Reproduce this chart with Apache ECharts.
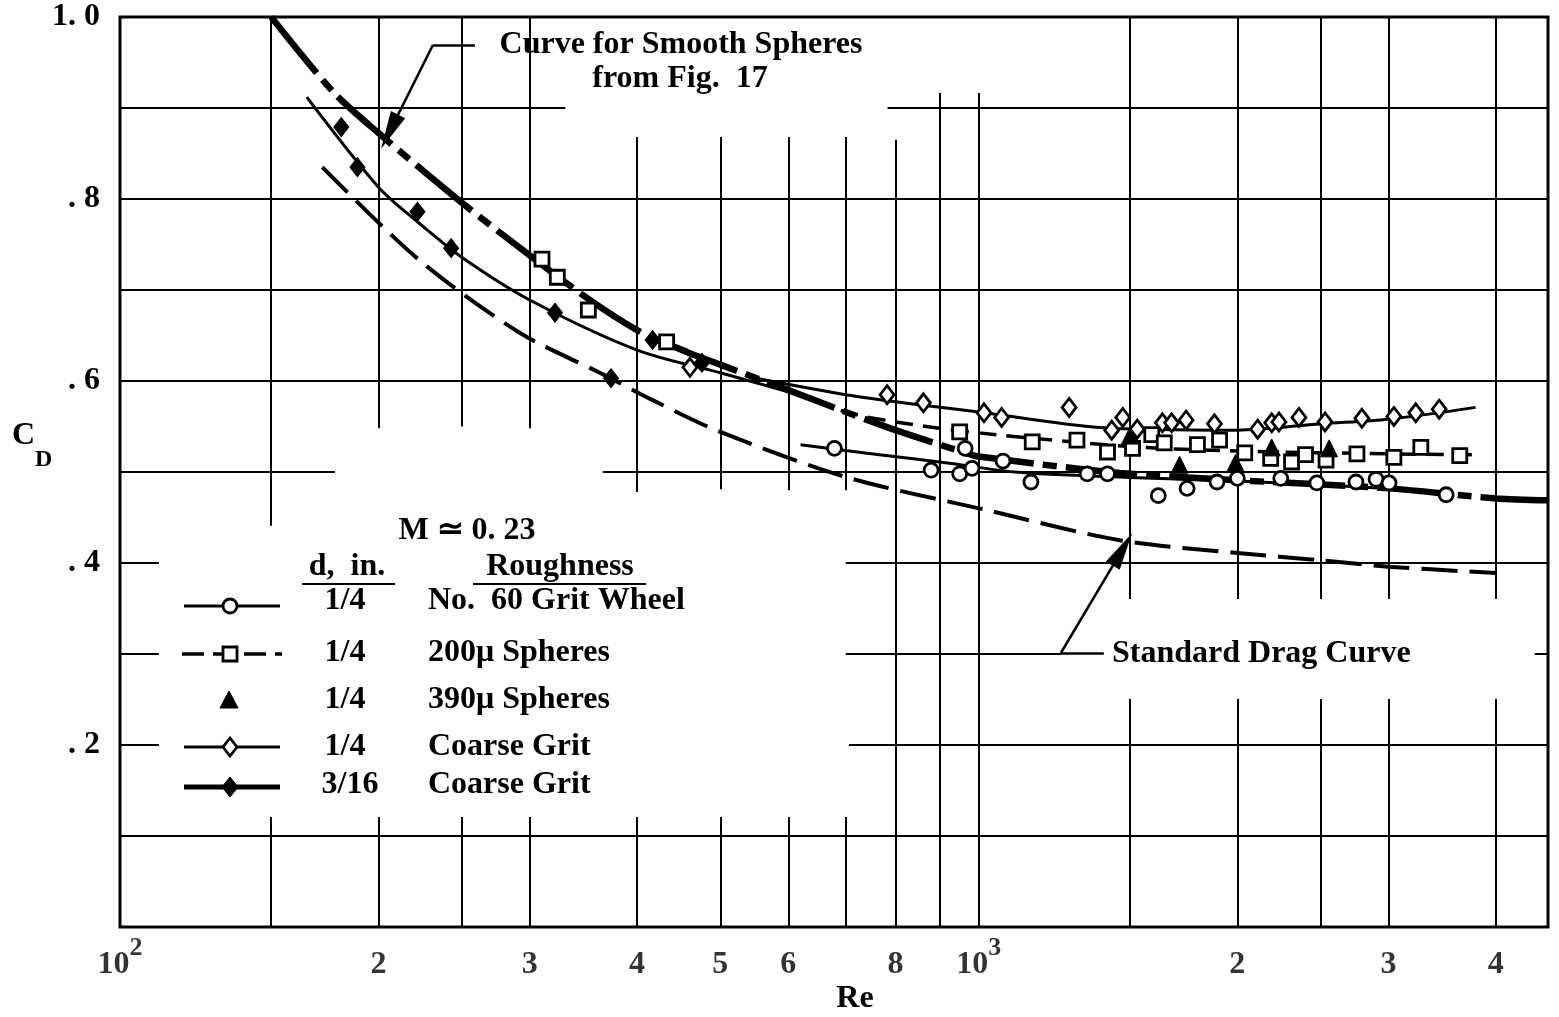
<!DOCTYPE html>
<html><head><meta charset="utf-8">
<script src="https://cdn.jsdelivr.net/npm/echarts@6/dist/echarts.min.js"></script>
<style>html,body{margin:0;padding:0;background:#fff}#c{width:1559px;height:1017px}</style>
</head><body><div id="c"></div>
<script>
// ---------------- data (Re, C_D) ----------------
const xTickValues = [100, 200, 300, 400, 500, 600, 800, 1000, 2000, 3000, 4000];
const xTickLabels = ['10^2', '2', '3', '4', '5', '6', '8', '10^3', '2', '3', '4'];

// Curve for smooth spheres (from Fig. 17)
const smoothRe = [150, 177, 200, 250, 300, 350, 400, 457, 500, 600, 700, 800, 958, 1000, 1459, 2000, 3000, 4000, 4600];
const smoothCd = [1.0, 0.918, 0.8725, 0.796, 0.738, 0.691, 0.656, 0.632, 0.618, 0.590, 0.566, 0.546, 0.522, 0.517, 0.499, 0.491, 0.482, 0.471, 0.469];

// Standard drag curve
const stdRe = [172, 223, 292, 362, 417, 500, 700, 1023, 1459, 2000, 2500, 3000, 4000];
const stdCd = [0.835, 0.733, 0.653, 0.609, 0.579, 0.544, 0.4945, 0.458, 0.425, 0.411, 0.403, 0.396, 0.389];

// 3/16 in., coarse grit (filled diamonds, solid line)
const grit316LineRe = [165, 200, 222, 250, 300, 400, 500, 600];
const grit316LineCd = [0.912, 0.813, 0.775, 0.736, 0.689, 0.634, 0.609, 0.588];
const grit316PtsRe = [181, 189, 222, 243, 321, 373, 417, 476];
const grit316PtsCd = [0.879, 0.835, 0.786, 0.746, 0.675, 0.603, 0.645, 0.620];

// 1/4 in., coarse grit (open diamonds, solid line)
const coarseLineRe = [550, 700, 850, 1000, 1383, 2000, 2500, 3000, 3788];
const coarseLineCd = [0.603, 0.585, 0.574, 0.566, 0.549, 0.546, 0.553, 0.558, 0.571];
const coarsePtsRe = [461, 782, 862, 1014, 1063, 1274, 1428, 1471, 1529, 1636, 1677, 1743, 1881, 2112, 2193, 2236, 2359, 2530, 2793, 3043, 3227, 3436];
const coarsePtsCd = [0.615, 0.585, 0.576, 0.565, 0.560, 0.571, 0.546, 0.560, 0.547, 0.554, 0.554, 0.557, 0.553, 0.547, 0.554, 0.555, 0.560, 0.555, 0.559, 0.561, 0.565, 0.569];

// 1/4 in., 200 micron spheres (open squares, dashed line)
const sph200LineRe = [600, 700, 800, 1000, 1500, 2000, 3000, 3788];
const sph200LineCd = [0.590, 0.566, 0.555, 0.543, 0.528, 0.523, 0.520, 0.519];
const sph200PtsRe = [310, 323, 351, 433, 950, 1154, 1301, 1412, 1510, 1590, 1644, 1797, 1907, 2040, 2187, 2313, 2401, 2537, 2756, 3043, 3271, 3631];
const sph200PtsCd = [0.734, 0.714, 0.678, 0.643, 0.544, 0.533, 0.535, 0.522, 0.526, 0.541, 0.532, 0.530, 0.535, 0.521, 0.515, 0.511, 0.519, 0.513, 0.520, 0.516, 0.527, 0.518];

// 1/4 in., No. 60 grit wheel (open circles, solid line)
const wheelLineRe = [620, 766, 919, 1100, 1500, 2000, 3000, 3500];
const wheelLineCd = [0.530, 0.519, 0.510, 0.500, 0.494, 0.490, 0.482, 0.478];
const wheelPtsRe = [679, 880, 950, 964, 982, 1067, 1150, 1337, 1412, 1618, 1748, 1894, 2000, 2247, 2475, 2749, 2901, 3004, 3501];
const wheelPtsCd = [0.526, 0.502, 0.498, 0.526, 0.504, 0.512, 0.489, 0.498, 0.498, 0.474, 0.482, 0.489, 0.493, 0.493, 0.488, 0.489, 0.492, 0.488, 0.475];

// 1/4 in., 390 micron spheres (filled triangles)
const sph390PtsRe = [1500, 1713, 1990, 2193, 2558];
const sph390PtsCd = [0.540, 0.508, 0.510, 0.527, 0.526];

// ---------------- chart-paper grid (segments, data units) ----------------
const hGridSegs = [ // [C_D, ReFrom, ReTo]
  [0.1, 100, 4600],
  [0.2, 100, 111], [0.2, 706, 4600],
  [0.3, 100, 111], [0.3, 700, 1246], [0.3, 4440, 4600],
  [0.4, 100, 111], [0.4, 700, 4600],
  [0.5, 100, 178], [0.5, 365, 4600],
  [0.6, 100, 4600], [0.7, 100, 4600], [0.8, 100, 4600],
  [0.9, 100, 330], [0.9, 783, 4600]
];
const vGridSegs = [ // [Re, CdFrom, CdTo]
  [150, 0.441, 1], [150, 0, 0.121],
  [200, 0.548, 1], [200, 0, 0.121],
  [250, 0.550, 1], [250, 0, 0.121],
  [300, 0.548, 1], [300, 0, 0.121],
  [400, 0.478, 0.868], [400, 0, 0.121],
  [500, 0.481, 0.868], [500, 0, 0.121],
  [600, 0.480, 0.868], [600, 0, 0.121],
  [700, 0.480, 0.868], [700, 0, 0.121],
  [800, 0, 0.865], [900, 0, 0.9165], [1000, 0, 0.9165],
  [1500, 0.3604, 1], [1500, 0, 0.2505],
  [2000, 0.3604, 1], [2000, 0, 0.2505],
  [2500, 0.3604, 1], [2500, 0, 0.2505],
  [3000, 0.3604, 1], [3000, 0, 0.2505],
  [4000, 0.3604, 1], [4000, 0, 0.2505]
];
// annotation leaders [Re, C_D]: horizontal start, corner, arrow tip
const smoothLeader = [[259, 0.9692], [231.4, 0.9692], [206, 0.8740]];
const stdLeader = [[1398, 0.3011], [1246, 0.3011], [1470, 0.4150]];

// ---------------- build ----------------
const F = "'Liberation Serif','Times New Roman',serif";
const FS = 32;
const font = 'bold ' + FS + 'px ' + F;
const pairs = (xs, ys) => xs.map((x, i) => [x, ys[i]]);

const gridData = [];
hGridSegs.forEach(s => gridData.push([{coord: [s[1], s[0]]}, {coord: [s[2], s[0]]}]));
vGridSegs.forEach(s => gridData.push([{coord: [s[0], s[1]]}, {coord: [s[0], s[2]]}]));

const leaderFlat = [smoothLeader, stdLeader].map(p => [{coord: p[0]}, {coord: p[1]}]);
const leaderArrow = [smoothLeader, stdLeader].map(p => [{coord: p[1]}, {coord: p[2]}]);

const lineBase = {type: 'line', symbol: 'none', smooth: 0.3, silent: true, z: 3};
const openItem = {color: '#fff', borderColor: '#000', borderWidth: 2.8, opacity: 1};
const filledItem = {color: '#000', borderColor: '#000', borderWidth: 1, opacity: 1};

function txt(x, y, s, align) {
  return {type: 'text', x: x, y: y, z: 10, style: {text: s, font: font, fill: '#000', align: align || 'center', textAlign: align || 'center', verticalAlign: 'middle', textVerticalAlign: 'middle'}};
}

const chart = echarts.init(document.getElementById('c'), null, {renderer: 'canvas'});
const option = {
  backgroundColor: '#fff',
  animation: false,
  grid: {left: 120, right: 11, top: 17, bottom: 90, show: true, borderColor: '#000', borderWidth: 3, backgroundColor: 'transparent'},
  xAxis: {type: 'log', logBase: 10, min: 100, max: 4600,
    axisLine: {show: false}, axisTick: {show: false}, axisLabel: {show: false}, splitLine: {show: false}},
  yAxis: {type: 'value', min: 0, max: 1, interval: 0.1,
    axisLine: {show: false}, axisTick: {show: false}, splitLine: {show: false},
    axisLabel: {margin: 20, color: '#000', fontFamily: F, fontSize: FS, fontWeight: 'bold',
      formatter: v => { const t = Math.round(v * 10); if (t === 10) return '1. 0'; if (t > 0 && t % 2 === 0) return '. ' + t; return ''; }}},
  series: [
    {name: 'paper', type: 'line', data: [], silent: true, z: 1,
      markLine: {silent: true, animation: false, symbol: ['none', 'none'], label: {show: false},
        lineStyle: {color: '#000', width: 2, type: 'solid'}, emphasis: {disabled: true}, data: gridData}},
    Object.assign({}, lineBase, {name: 'Smooth', data: pairs(smoothRe, smoothCd), lineStyle: {color: '#000', width: 6.5, type: [72, 9, 14, 9], cap: 'butt'}}),
    Object.assign({}, lineBase, {name: 'Standard', data: pairs(stdRe, stdCd), lineStyle: {color: '#000', width: 4, type: [36, 12]}}),
    Object.assign({}, lineBase, {name: '3/16 line', data: pairs(grit316LineRe, grit316LineCd), lineStyle: {color: '#000', width: 3}}),
    Object.assign({}, lineBase, {name: 'coarse line', data: pairs(coarseLineRe, coarseLineCd), lineStyle: {color: '#000', width: 3}}),
    Object.assign({}, lineBase, {name: '200 line', data: pairs(sph200LineRe, sph200LineCd), lineStyle: {color: '#000', width: 3.5, type: [18, 10]}}),
    Object.assign({}, lineBase, {name: 'wheel line', data: pairs(wheelLineRe, wheelLineCd), lineStyle: {color: '#000', width: 3}}),
    {name: '3/16 pts', type: 'scatter', z: 5, silent: true, symbol: 'diamond', symbolSize: [15, 19], itemStyle: filledItem, data: pairs(grit316PtsRe, grit316PtsCd)},
    {name: 'coarse pts', type: 'scatter', z: 5, silent: true, symbol: 'diamond', symbolSize: [14, 18], itemStyle: openItem, data: pairs(coarsePtsRe, coarsePtsCd)},
    {name: '200 pts', type: 'scatter', z: 5, silent: true, symbol: 'rect', symbolSize: 14, itemStyle: openItem, data: pairs(sph200PtsRe, sph200PtsCd)},
    {name: 'wheel pts', type: 'scatter', z: 5, silent: true, symbol: 'circle', symbolSize: 14, itemStyle: openItem, data: pairs(wheelPtsRe, wheelPtsCd)},
    {name: '390 pts', type: 'scatter', z: 5, silent: true, symbol: 'triangle', symbolSize: 17, itemStyle: filledItem, data: pairs(sph390PtsRe, sph390PtsCd)},
    {name: 'leaders', type: 'line', data: [], silent: true, z: 4,
      markLine: {silent: true, animation: false, label: {show: false}, symbol: ['none', 'none'],
        lineStyle: {color: '#000', width: 2.5, type: 'solid'}, emphasis: {disabled: true}, data: leaderFlat}},
    {name: 'arrows', type: 'line', data: [], silent: true, z: 4,
      markLine: {silent: true, animation: false, label: {show: false}, symbol: ['none', 'triangle'], symbolSize: [16, 38],
        lineStyle: {color: '#000', width: 2.5, type: 'solid'}, itemStyle: {color: '#000'}, emphasis: {disabled: true}, data: leaderArrow}},
    {name: 'xlabels', type: 'scatter', silent: true, z: 6, symbolSize: 0, clip: false,
      data: xTickValues.map((v, i) => [v, 0, xTickLabels[i]]),
      label: {show: true, position: 'inside', offset: [0, 38], color: '#000',
        formatter: p => { const s = p.data[2]; if (s.indexOf('^') >= 0) { const a = s.split('^'); return '{b|' + a[0] + '}{s|' + a[1] + '}'; } return '{b|' + s + '}'; },
        rich: {
          b: {fontFamily: F, fontSize: FS, fontWeight: 'bold', lineHeight: 60, color: '#000'},
          s: {fontFamily: F, fontSize: 26, fontWeight: 'bold', lineHeight: 20, verticalAlign: 'top', color: '#000'}
        }}}
  ],
  graphic: [
    {type: 'text', left: 12, top: 420, z: 10, style: {text: '{c|C}{d|D}', rich: {
      c: {fontFamily: F, fontSize: FS, fontWeight: 'bold', lineHeight: 52, verticalAlign: 'top', fill: '#000', color: '#000'},
      d: {fontFamily: F, fontSize: 24, fontWeight: 'bold', lineHeight: 22, verticalAlign: 'bottom', fill: '#000', color: '#000'}}}},
    txt(855, 999, 'Re'),
    txt(681, 45, 'Curve for Smooth Spheres'),
    txt(680, 79, 'from Fig.  17'),
    txt(1112, 654, 'Standard Drag Curve', 'left'),
    txt(467, 531, 'M \u2243 0. 23'),
    txt(347, 567, 'd,  in.'),
    {type: 'line', shape: {x1: 302, y1: 584, x2: 395, y2: 584}, style: {stroke: '#000', lineWidth: 2}},
    txt(560, 567, 'Roughness'),
    {type: 'line', shape: {x1: 473, y1: 584, x2: 646, y2: 584}, style: {stroke: '#000', lineWidth: 2}},
    // row 1
    {type: 'line', shape: {x1: 184, y1: 606, x2: 280, y2: 606}, style: {stroke: '#000', lineWidth: 3}},
    {type: 'circle', shape: {cx: 230, cy: 606, r: 7}, style: {fill: '#fff', stroke: '#000', lineWidth: 2.8}},
    txt(345, 601, '1/4'), txt(428, 601, 'No.  60 Grit Wheel', 'left'),
    // row 2
    {type: 'line', shape: {x1: 182, y1: 654, x2: 282, y2: 654}, style: {stroke: '#000', lineWidth: 3.5, lineDash: [22, 9]}},
    {type: 'rect', shape: {x: 223, y: 647, width: 14, height: 14}, style: {fill: '#fff', stroke: '#000', lineWidth: 2.8}},
    txt(345, 653, '1/4'), txt(428, 653, '200\u03bc Spheres', 'left'),
    // row 3
    {type: 'polygon', shape: {points: [[229, 691], [238, 708], [220, 708]]}, style: {fill: '#000', stroke: '#000', lineWidth: 1}},
    txt(345, 700, '1/4'), txt(428, 700, '390\u03bc Spheres', 'left'),
    // row 4
    {type: 'line', shape: {x1: 184, y1: 747, x2: 280, y2: 747}, style: {stroke: '#000', lineWidth: 3}},
    {type: 'polygon', shape: {points: [[230, 738], [237, 747], [230, 756], [223, 747]]}, style: {fill: '#fff', stroke: '#000', lineWidth: 2.8}},
    txt(345, 747, '1/4'), txt(428, 747, 'Coarse Grit', 'left'),
    // row 5
    {type: 'line', shape: {x1: 184, y1: 787, x2: 280, y2: 787}, style: {stroke: '#000', lineWidth: 5}},
    {type: 'polygon', shape: {points: [[230, 777], [238, 787], [230, 797], [222, 787]]}, style: {fill: '#000', stroke: '#000', lineWidth: 1}},
    txt(350, 785, '3/16'), txt(428, 785, 'Coarse Grit', 'left')
  ]
};
chart.setOption(option);
</script>
</body></html>
